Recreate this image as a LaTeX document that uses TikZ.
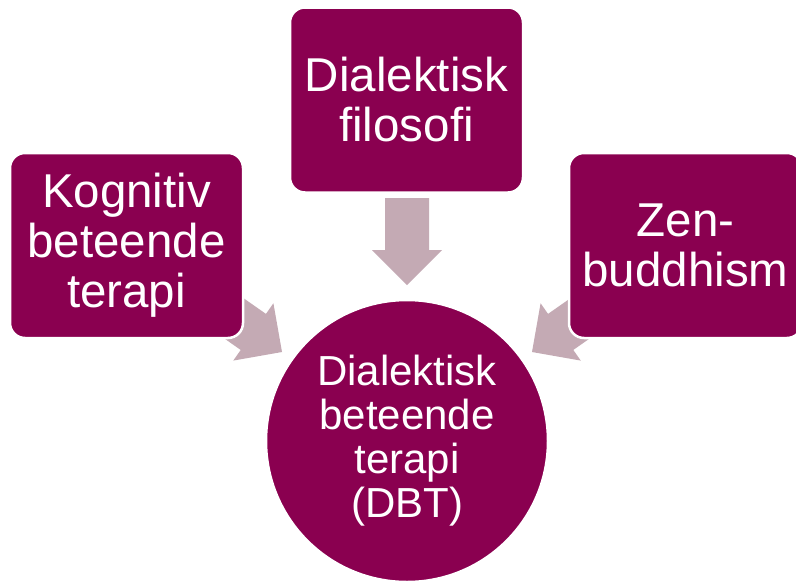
\documentclass[tikz,border=0pt]{standalone}
\usepackage{fontspec}
\setmainfont{Liberation Sans}
\definecolor{berry}{RGB}{138,0,80}
\definecolor{mauve}{RGB}{196,170,180}
\tikzset{
  sourcebox/.style={rectangle, rounded corners=15pt, fill=berry, draw=white,
    line width=2.5pt, minimum width=233pt, minimum height=185pt, inner sep=0pt,
    text=white, align=center, font=\fontsize{47.5}{50}\selectfont},
  hubcircle/.style={circle, fill=berry, draw=white, line width=2.5pt,
    minimum size=282pt, inner sep=0pt, text=white, align=center,
    font=\fontsize{42}{44}\selectfont},
  blockarrow/.style={fill=mauve, draw=none}
}
% block arrow pointing along +x with its tip at the origin
\newcommand{\blockarrowpath}{(0,0) -- (-35,35) -- (-35,22) -- (-87,22) -- (-87,-22) -- (-35,-22) -- (-35,-35) -- cycle}
\begin{document}
\begin{tikzpicture}[x=1pt,y=1pt]
  \useasboundingbox (0,0) rectangle (796,-584);
  \fill[white] (0,0) rectangle (796,-584);

  % arrow tips, converging on the hub
  \coordinate (tipL) at (282,-352);
  \coordinate (tipT) at (407,-285);
  \coordinate (tipR) at (532,-352);

  \fill[blockarrow, shift={(tipL)}, rotate=-35] \blockarrowpath;
  \fill[blockarrow, shift={(tipT)}, rotate=-90] \blockarrowpath;
  \fill[blockarrow, shift={(tipR)}, rotate=-145] \blockarrowpath;

  % source boxes
  \node[sourcebox] (kbt) at (126.5,-245.5) {Kognitiv\\beteende\\terapi};
  \node[sourcebox] (dfil) at (406.5,-100) {Dialektisk\\filosofi};
  \node[sourcebox] (zen) at (685.5,-245.5) {Zen-\\buddhism};

  % hub
  \node[hubcircle] (dbt) at (407,-441) {Dialektisk\\beteende\\terapi\\(DBT)};
\end{tikzpicture}
\end{document}
